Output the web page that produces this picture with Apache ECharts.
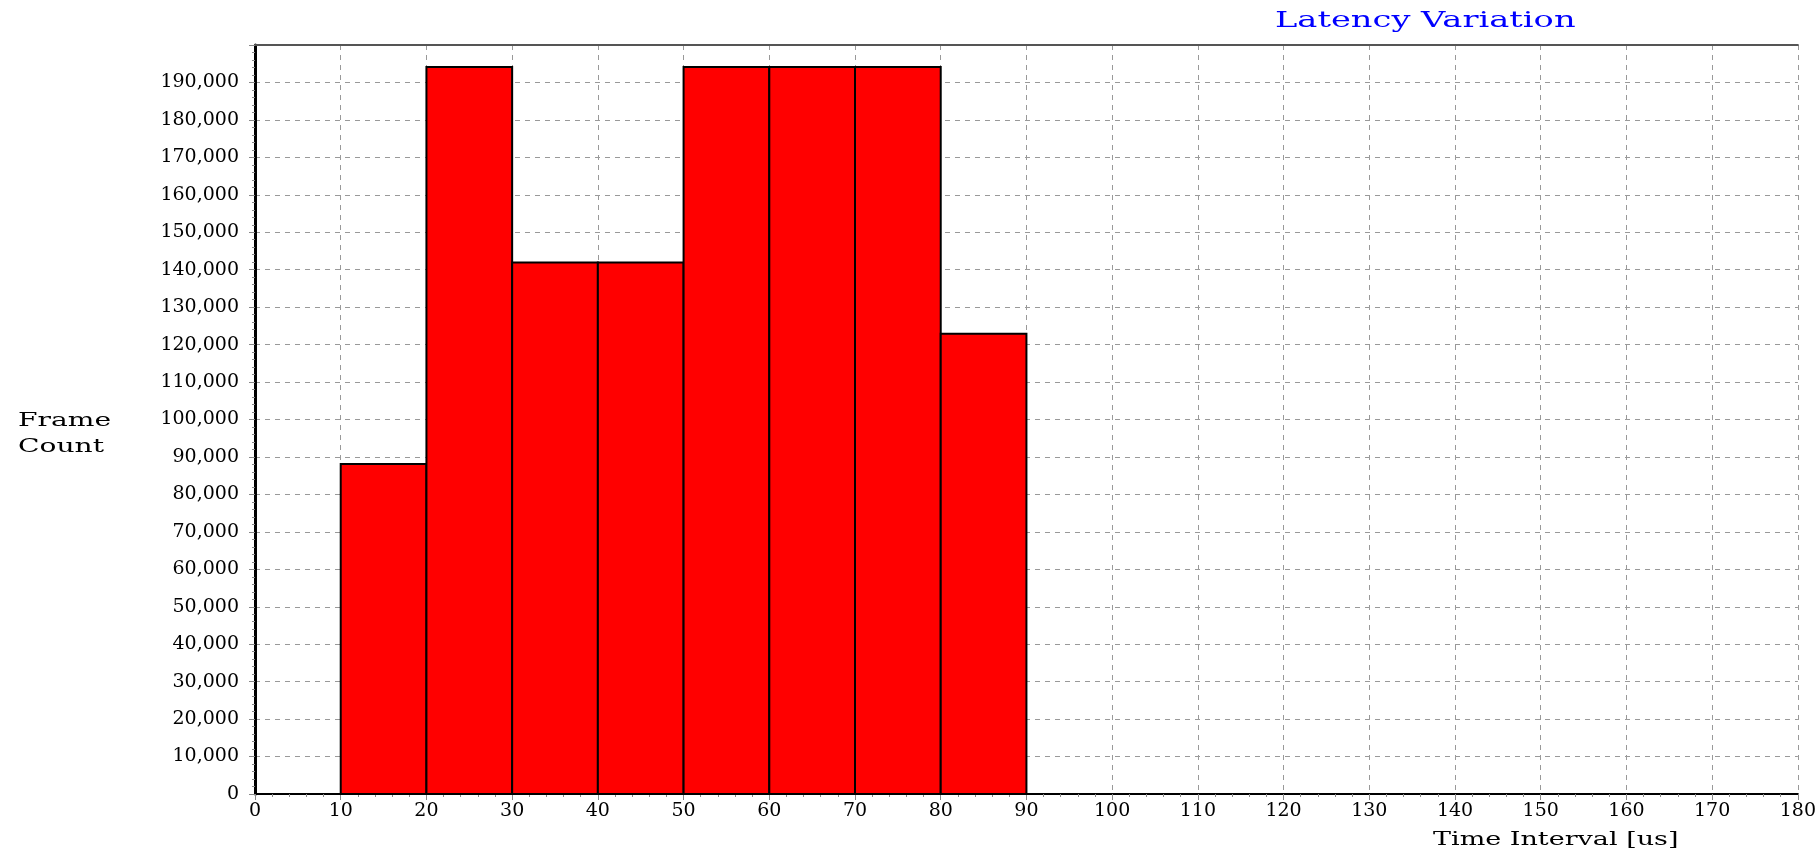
<!DOCTYPE html>
<html>
<head>
<meta charset="utf-8">
<script src="https://cdn.jsdelivr.net/npm/echarts@6/dist/echarts.min.js"></script>
<style>
html,body{margin:0;padding:0;background:#fff;}
#chart{width:1819px;height:859px;}
</style>
</head>
<body>
<div id="chart"></div>
<script>
// Histogram bins (Time Interval [us]) and frame counts
const binStarts = [10, 20, 30, 40, 50, 60, 70, 80];
const binEnds   = [20, 30, 40, 50, 60, 70, 80, 90];
const frameCounts = [88100, 194100, 141900, 141900, 194100, 194100, 194100, 122900];

const titleText = 'Latency Variation';
const xAxisName = 'Time Interval [us]';
const yAxisName = 'Frame\nCount';

const FONT = 'DejaVu Serif';

const data = binStarts.map((s, i) => [s, binEnds[i], frameCounts[i]]);

const chart = echarts.init(document.getElementById('chart'));
chart.setOption({
  animation: false,
  backgroundColor: '#ffffff',
  graphic: [
    {
      type: 'text', x: 1275, y: 10, scaleX: 1.53,
      style: { text: titleText, fontFamily: FONT, fontSize: 22, fill: '#0000ff', align: 'left', verticalAlign: 'top' }
    },
    {
      type: 'text', x: 1433, y: 831, scaleX: 1.5,
      style: { text: xAxisName, fontFamily: FONT, fontSize: 18, fill: '#000', align: 'left', verticalAlign: 'top' }
    },
    {
      type: 'text', x: 18, y: 408, scaleX: 1.48,
      style: { text: yAxisName, fontFamily: FONT, fontSize: 19, lineHeight: 26, fill: '#000', align: 'left', verticalAlign: 'top' }
    }
  ],
  grid: { left: 255, right: 13, top: 45, bottom: 65 },
  xAxis: [{
    type: 'value',
    min: 0, max: 180, interval: 10,
    axisLine: { show: true, onZero: false, lineStyle: { color: '#000', width: 2 } },
    axisTick: { show: true, length: 6, lineStyle: { color: '#888', width: 1 } },
    minorTick: { show: true, splitNumber: 5, length: 3, lineStyle: { color: '#888', width: 1 } },
    axisLabel: { fontFamily: FONT, fontSize: 19, color: '#000', margin: 8 },
    splitLine: { show: true, lineStyle: { color: '#999', type: [5, 5], width: 1 } }
  }, {
    type: 'value', position: 'top',
    min: 0, max: 180, interval: 10,
    axisLine: { show: true, onZero: false, lineStyle: { color: '#555', width: 2 } },
    axisTick: { show: false }, axisLabel: { show: false }, splitLine: { show: false }
  }],
  yAxis: {
    type: 'value',
    min: 0, max: 200000, interval: 10000,
    axisLine: { show: true, lineStyle: { color: '#000', width: 3 } },
    axisTick: { show: true, length: 6, lineStyle: { color: '#888', width: 1 } },
    minorTick: { show: true, splitNumber: 5, length: 3, lineStyle: { color: '#888', width: 1 } },
    axisLabel: {
      fontFamily: FONT, fontSize: 19, color: '#000', margin: 16,
      showMaxLabel: false,
      formatter: v => v.toLocaleString('en-US')
    },
    splitLine: { show: true, lineStyle: { color: '#999', type: [5, 5], width: 1 } }
  },
  series: [{
    type: 'custom',
    xAxisIndex: 0,
    data: data,
    encode: { x: [0, 1], y: 2 },
    renderItem: function (params, api) {
      const p0 = api.coord([api.value(0), 0]);
      const p1 = api.coord([api.value(1), api.value(2)]);
      return {
        type: 'rect',
        shape: { x: p0[0], y: p1[1], width: p1[0] - p0[0], height: p0[1] - p1[1] },
        style: { fill: '#ff0000', stroke: '#000', lineWidth: 2 }
      };
    }
  }]
});
</script>
</body>
</html>
